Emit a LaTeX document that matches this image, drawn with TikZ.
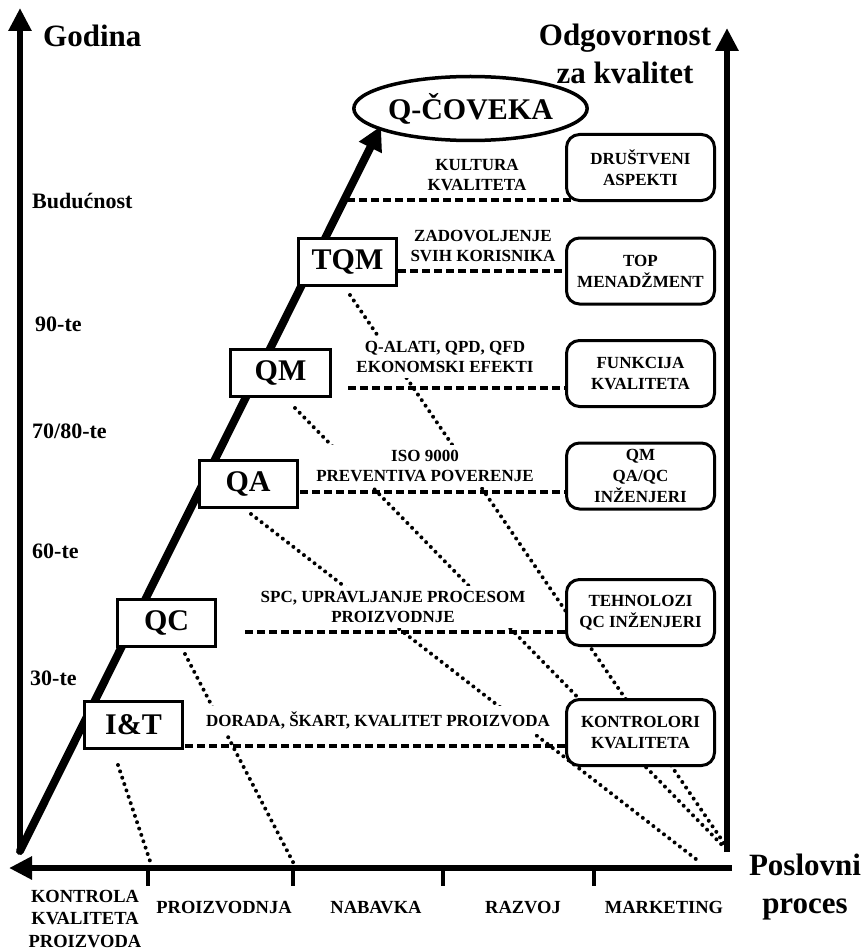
\documentclass[tikz,border=0pt]{standalone}
\usepackage{fontspec}
\setmainfont{Liberation Serif}
\usetikzlibrary{arrows.meta,shapes.geometric,calc}
\pgfdeclarelayer{back}
\pgfsetlayers{back,main}
\begin{document}
\begin{tikzpicture}[x=1pt,y=-1pt,
  stagebox/.style={draw, line width=3pt, fill=white, minimum width=98pt,
    minimum height=47pt, inner sep=0pt, font=\bfseries\fontsize{30}{30}\selectfont},
  rolebox/.style={draw, line width=3pt, rounded corners=13pt, fill=white,
    minimum width=148pt, minimum height=66pt, inner sep=0pt, align=center,
    font=\bfseries\fontsize{17}{21}\selectfont},
  goalell/.style={draw, ellipse, line width=3.5pt, fill=white, minimum width=182pt,
    minimum height=64pt, inner sep=0pt, font=\bfseries\fontsize{30}{30}\selectfont},
  note/.style={fill=white, align=center, inner sep=5pt,
    font=\bfseries\fontsize{17}{20}\selectfont},
  era/.style={anchor=base west, inner sep=0pt, font=\bfseries\fontsize{22}{22}\selectfont},
  procname/.style={align=center, inner sep=0pt, font=\bfseries\fontsize{18.5}{22.5}\selectfont},
  axtitle/.style={align=center, inner sep=0pt, font=\bfseries\fontsize{31}{38}\selectfont},
  axisarrow/.style={line width=6pt, -{Triangle[length=23pt,width=22pt]}},
  trendarrow/.style={line width=8pt, line cap=round, -{Triangle[length=24pt,width=24pt]}},
  tickmark/.style={line width=3.5pt},
  dotray/.style={line width=4pt, line cap=round, dash pattern=on 0pt off 6.7pt},
  dashlink/.style={line width=3.3pt, dash pattern=on 7.5pt off 4.5pt},
]
\useasboundingbox (0,0) rectangle (862,952);

% ---- axes end points and ticks ----
\coordinate (O) at (20,851);
\coordinate (ytop) at (20,8);
\coordinate (rbot) at (727,852);
\coordinate (rtop) at (727,28);
\coordinate (xright) at (732,868);
\coordinate (xleft) at (9,868);
\coordinate (tk1) at (148,868);
\coordinate (tk2) at (293,868);
\coordinate (tk3) at (443,868);
\coordinate (tk4) at (594,868);
\coordinate (goaltip) at (381,126);

% ---- stages of quality development ----
\node[stagebox] (it)  at (133.5,725) {I\&T};
\node[stagebox] (qc)  at (166.5,622.5) {QC};
\node[stagebox] (qa)  at (248,483.5) {QA};
\node[stagebox, minimum width=100pt] (qm)  at (280.5,373) {QM};
\node[stagebox] (tqm) at (347.5,262) {TQM};
\node[goalell] (goal) at (470.5,108.5) {Q-ČOVEKA};

% ---- who is responsible ----
\node[rolebox] (dru) at (640.5,167.5) {DRUŠTVENI\\ASPEKTI};
\node[rolebox] (top) at (640.5,271) {TOP\\MENADŽMENT};
\node[rolebox] (fun) at (640.5,373.5) {FUNKCIJA\\KVALITETA};
\node[rolebox] (qmr) at (640.5,476) {QM\\QA/QC\\INŽENJERI};
\node[rolebox] (teh) at (640.5,612.5) {TEHNOLOZI\\QC INŽENJERI};
\node[rolebox] (kon) at (640.5,732.5) {KONTROLORI\\KVALITETA};

% ---- focus of each stage ----
\node[note] (n1) at (477,175) {KULTURA\\KVALITETA};
\node[note] (n2) at (483,246) {ZADOVOLJENJE\\SVIH KORISNIKA};
\node[note] (n3) at (445,357) {Q-ALATI, QPD, QFD\\EKONOMSKI EFEKTI};
\node[note] (n4) at (425,466) {ISO 9000\\PREVENTIVA POVERENJE};
\node[note] (n5) at (393,607) {SPC, UPRAVLJANJE PROCESOM\\PROIZVODNJE};
\node[note, anchor=base] (n6) at (378,726) {DORADA, ŠKART, KVALITET PROIZVODA};

% ---- axis titles ----
\node[axtitle, anchor=base west] (ylab) at (43,47) {Godina};
\node[axtitle] (rlab) at (625,54) {Odgovornost\\za kvalitet};
\node[axtitle] (xlab) at (805,887) {Poslovni\\proces};

% ---- periods ----
\node[era] (e1) at (32,208) {Budućnost};
\node[era] (e2) at (35,331) {90-te};
\node[era] (e3) at (32,438) {70/80-te};
\node[era] (e4) at (32,558) {60-te};
\node[era] (e5) at (30,685) {30-te};

% ---- business processes ----
\node[procname] (p1) at (85,919) {KONTROLA\\KVALITETA\\PROIZVODA};
\node[procname, anchor=base] (p2) at (224,913) {PROIZVODNJA};
\node[procname, anchor=base] (p3) at (376,913) {NABAVKA};
\node[procname, anchor=base] (p4) at (523,913) {RAZVOJ};
\node[procname, anchor=base] (p5) at (664,913) {MARKETING};

% ---- rays from each stage to the business processes ----
\coordinate (itS)  at (118,765);  \coordinate (itE)  at (151,864);
\coordinate (qcS)  at (185,654);  \coordinate (qcE)  at (294,864);
\coordinate (qaS)  at (251,514);  \coordinate (qaE)  at (701,863);
\coordinate (qmS)  at (295,408);  \coordinate (qmE)  at (723,846);
\coordinate (tqmS) at (350,295);  \coordinate (tqmE) at (728,849);

% ---- starts of the horizontal links ----
\coordinate (kultL) at (347,200);
\coordinate (druC)  at ($(dru.south west)+(9,-0.5)$);
\coordinate (qmL)   at (348,388);
\coordinate (qaL)   at (300,492);
\coordinate (qcL)   at (245,632);
\coordinate (itL)   at (185,746);

\begin{pgfonlayer}{back}
  \fill[white] (0,0) rectangle (862,952);
  % dotted rays
  \draw[dotray] (itS) -- (itE);
  \draw[dotray] (qcS) -- (qcE);
  \draw[dotray] (qaS) -- (qaE);
  \draw[dotray] (qmS) -- (qmE);
  \draw[dotray] (tqmS) -- (tqmE);
  % dashed links to the responsible roles
  \draw[dashlink] (kultL) -- (kultL -| druC);
  \draw[dashlink] (tqm.east |- top.west) -- (top.west);
  \draw[dashlink] (qmL) -- (qmL -| fun.west);
  \draw[dashlink] (qaL) -- (qaL -| qmr.west);
  \draw[dashlink] (qcL) -- (qcL -| teh.west);
  \draw[dashlink] (itL) -- (itL -| kon.west);
  % axes
  \draw[axisarrow] (O) -- (ytop);
  \draw[axisarrow] (rbot) -- (rtop);
  \draw[axisarrow] (xright) -- (xleft);
  \foreach \t in {tk1,tk2,tk3,tk4} \draw[tickmark] (\t) -- ++(0,18);
  % development path
  \draw[trendarrow] (O) -- (goaltip);
\end{pgfonlayer}
\end{tikzpicture}
\end{document}
